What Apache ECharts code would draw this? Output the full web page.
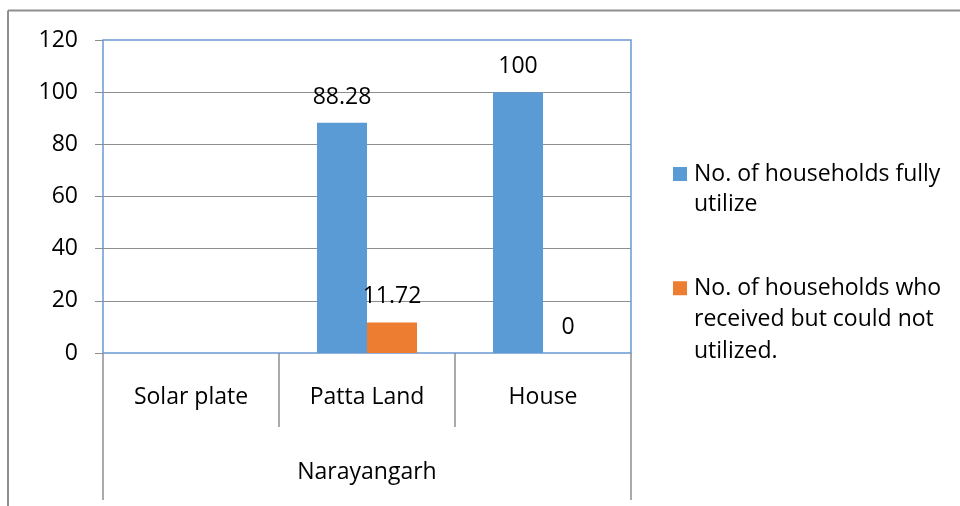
<!DOCTYPE html>
<html>
<head>
<meta charset="utf-8">
<title>Narayangarh households</title>
<script src="https://cdn.jsdelivr.net/npm/echarts@6/dist/echarts.min.js"></script>
<style>
  html, body { margin: 0; padding: 0; background: #fff; }
  #chart { width: 960px; height: 506px; }
</style>
</head>
<body>
<div id="chart"></div>
<script>
// data
const categories = ["Solar plate", "Patta Land", "House"];
const groupLabels = ["Narayangarh"];
const fullyUtilized = [null, 88.28, 100];
const notUtilized = [null, 11.72, 0];
const seriesNames = [
  "No. of households fully utilize",
  "No. of households who received but could not utilized."
];
// leading blank lines keep the first text line level with the legend square
const legendLines = [
  "\nNo. of households fully\nutilize",
  "\n\nNo. of households who\nreceived but could not\nutilized."
];

const FONT = "Open Sans";
const FS = 23;
const GRID_COLOR = "#8e8e8e";

const chart = echarts.init(document.getElementById("chart"));

const option = {
  animation: false,
  textStyle: { fontFamily: FONT, color: "#000" },
  graphic: [
    { type: "line", shape: { x1: 8, y1: 10.5, x2: 960, y2: 10.5 }, style: { stroke: "#8f8f8f", lineWidth: 2 } },
    { type: "line", shape: { x1: 8, y1: 10.5, x2: 8, y2: 506 }, style: { stroke: "#8f8f8f", lineWidth: 2 } }
  ],
  grid: {
    left: 103,
    right: 329,
    top: 40,
    bottom: 153,
    show: true,
    borderColor: "#6a98d4",
    borderWidth: 1.5
  },
  legend: [
    {
      data: [seriesNames[0]],
      left: 673,
      top: 129,
      padding: 0,
      itemWidth: 14,
      itemHeight: 14,
      icon: "rect",
      selectedMode: false,
      formatter: () => legendLines[0],
      textStyle: { fontFamily: FONT, fontSize: FS, color: "#000", lineHeight: 30, padding: [0, 0, 0, 2] }
    },
    {
      data: [seriesNames[1]],
      left: 673,
      top: 209.5,
      padding: 0,
      itemWidth: 14,
      itemHeight: 14,
      icon: "rect",
      selectedMode: false,
      formatter: () => legendLines[1],
      textStyle: { fontFamily: FONT, fontSize: FS, color: "#000", lineHeight: 31.5, padding: [0, 0, 0, 2] }
    }
  ],
  xAxis: [
    {
      type: "category",
      data: categories,
      boundaryGap: true,
      axisLine: { show: false },
      axisTick: { show: true, interval: 0, length: 74, lineStyle: { color: GRID_COLOR, width: 1.5 } },
      axisLabel: { interval: 0, margin: 33, fontFamily: FONT, fontSize: FS, color: "#000" }
    },
    {
      type: "category",
      data: groupLabels,
      position: "bottom",
      boundaryGap: true,
      axisLine: { show: false },
      axisTick: { show: true, interval: 0, length: 147, lineStyle: { color: GRID_COLOR, width: 1.5 } },
      axisLabel: { interval: 0, margin: 108, fontFamily: FONT, fontSize: FS, color: "#000" }
    }
  ],
  yAxis: {
    type: "value",
    min: 0,
    max: 120,
    interval: 20,
    axisLine: { show: false },
    axisTick: { show: true, length: 8, lineStyle: { color: GRID_COLOR } },
    axisLabel: { margin: 25, fontFamily: FONT, fontSize: FS, color: "#000" },
    splitLine: { show: true, showMinLine: false, showMaxLine: false, lineStyle: { color: GRID_COLOR, width: 1 } }
  },
  series: [
    {
      name: seriesNames[0],
      type: "bar",
      data: fullyUtilized,
      barWidth: 50,
      barGap: "0%",
      itemStyle: { color: "#5b9bd5" },
      label: { show: true, position: "top", distance: 14, fontFamily: FONT, fontSize: FS, color: "#000" }
    },
    {
      name: seriesNames[1],
      type: "bar",
      data: notUtilized,
      barWidth: 50,
      barGap: "0%",
      itemStyle: { color: "#ed7d31" },
      label: { show: true, position: "top", distance: 14, fontFamily: FONT, fontSize: FS, color: "#000" }
    }
  ]
};

chart.setOption(option);
</script>
</body>
</html>
